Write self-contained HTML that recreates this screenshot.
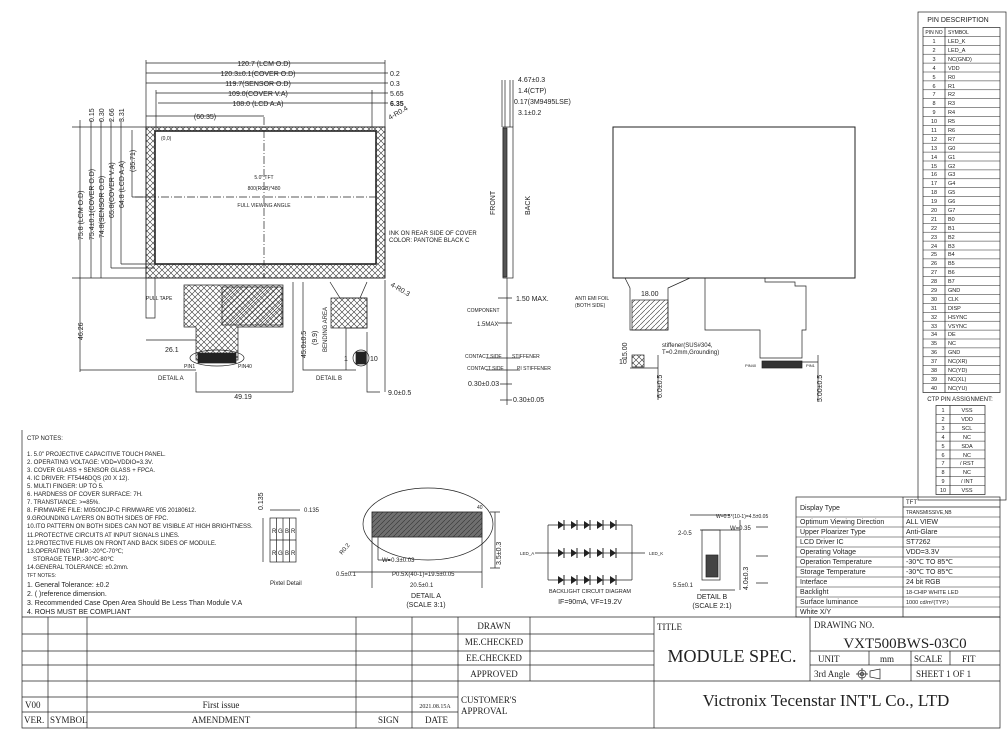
<!DOCTYPE html>
<html><head><meta charset="utf-8"><style>
html,body{margin:0;padding:0;background:#fff;}
svg{display:block;}
text{font-family:"Liberation Sans",sans-serif;fill:#222;}
.s{font-family:"Liberation Serif",serif;}
</style></head><body>
<svg width="1008" height="742" viewBox="0 0 1008 742" xmlns="http://www.w3.org/2000/svg">
<defs>
<pattern id="xh" width="6" height="6" patternUnits="userSpaceOnUse">
<path d="M0 0L6 6M6 0L0 6" stroke="#333" stroke-width="0.6"/>
</pattern>
<pattern id="dh" width="5" height="5" patternUnits="userSpaceOnUse">
<path d="M0 5L5 0" stroke="#333" stroke-width="0.6"/>
</pattern>
</defs>
<rect width="1008" height="742" fill="#fff"/>
<g stroke="#222" fill="none" stroke-width="0.7">
<!-- FRONT VIEW -->
<path d="M146 127H385V278H146Z M155 131H376V264H155Z" fill="url(#xh)" fill-rule="evenodd"/>
<rect x="146" y="127" width="239" height="151" stroke-width="1"/>
<rect x="155" y="131" width="221" height="133" stroke-width="1.6"/>
<path d="M264 117V278 M135 197H376" stroke-dasharray="8 2 1 2"/>
<!-- top dims -->
<path d="M146 60V127 M385 60V127 M146 63H385 M146 73H388 M146 83H388 M156 93H388 M158 103H388 M146 116H264 M156 90V130 M372 90V130"/>
<!-- left dims -->
<path d="M72 127H146 M72 278H146 M80 120V372 M91 120V278 M101 120V278 M111 120V268 M121 120V264 M111 268H155 M121 264H155 M132 130V197 M132 197H150 M80 370H196"/>
<!-- FPC -->
<path d="M184 285H283V327H238V360H196V327H184Z" fill="url(#xh)"/>
<rect x="222" y="287" width="60" height="38" fill="url(#dh)"/>
<rect x="198" y="353" width="38" height="10" fill="#222"/>
<ellipse cx="217" cy="358" rx="27" ry="8"/>
<path d="M146 278V318H155V278 M330 282L340 298H367V328H346V370 M360 298L367 282"/>
<rect x="331" y="298" width="36" height="30" fill="url(#xh)"/>
<rect x="356" y="352" width="10" height="12" fill="#222"/>
<circle cx="361" cy="358" r="8"/>
<path d="M146 340H196 M196 372V392H293 M293 282V392 M303 282V370H356 M367 332V392H380 M385 280V392"/>
<!-- SIDE VIEW -->
<rect x="503" y="127" width="10" height="151"/>
<rect x="503" y="128" width="4" height="149" fill="#555"/>
<path d="M502 80V127 M505 80V127 M510 80V127 M513 80V127 M507 278V405 M498 298H512 M498 323H512 M486 358H520 M486 370H520 M500 384H512 M500 400H512"/>
<!-- BACK VIEW -->
<rect x="613" y="127" width="242" height="151" stroke-width="1"/>
<path d="M625 278L630 288V330H668V288L690 278 M705 278V330H760V358H802V330H806V286H795V282H765V278"/>
<rect x="632" y="300" width="36" height="30" fill="url(#dh)"/>
<rect x="632" y="355" width="12" height="12" fill="url(#xh)"/>
<rect x="762" y="361" width="40" height="7" fill="#333"/>
<path d="M630 368H658 M658 355V400 M802 362H818 M818 355V400"/>
<!-- PIXEL DETAIL -->
<rect x="270" y="518" width="26" height="44"/>
<path d="M276.5 518V562 M283 518V562 M289.5 518V562 M270 540H296 M270 510H300 M263 518V562"/>
<!-- DETAIL A -->
<ellipse cx="428" cy="524" rx="65" ry="36"/>
<rect x="372" y="512" width="110" height="25" fill="url(#dh)"/>
<rect x="372" y="512" width="110" height="25" fill="#333" opacity="0.7"/>
<path d="M372 537V588 M482 537V588 M378 537V560 M372 572H482 M350 572H372 M490 512H500 M490 568H500 M495 512V568 M378 560H390"/>
<!-- BACKLIGHT -->
<path d="M548 525H632 M548 553H632 M548 580H632 M548 525V580 M632 525V580 M535 553H548 M632 553H645"/>
<!-- DETAIL B -->
<rect x="702" y="530" width="18" height="50"/>
<rect x="706" y="555" width="12" height="22" fill="#444"/>
<path d="M690 515H730 M700 530H740 M740 520V590 M700 590H735"/>
<!-- PIN TABLE -->
<rect x="918" y="12" width="88" height="488"/>
<rect x="923" y="27.5" width="77" height="365"/>
<path d="M945 27.5V392.5"/>
<rect x="936" y="405.5" width="49" height="89"/>
<path d="M950 405.5V494.5"/>
<!-- SPEC TABLE -->
<rect x="796" y="497" width="204" height="120"/>
<path d="M903 497V617 M903 507H1000"/>
<!-- TITLE BLOCK -->
<path d="M22 430V728H1000V617 M22 617H1000 M22 634H654 M22 651H654 M22 665H654 M22 681H1000 M22 697H458 M22 712H458 M48 617V728 M87 617V728 M356 617V728 M412 617V728 M458 617V728 M530 617V681 M654 617V728 M810 617V681 M810 651H1000 M810 665H1000 M869 651V665 M911 651V681 M950 651V665"/>
</g>
<g stroke="#222" stroke-width="0.8">
<path d="M756 527H768 M756 556H768 M756 583H768"/>
</g>
<!-- diodes -->
<g fill="#222">
<g id="dr"><path d="M558 521l6 4-6 4z M571 521l6 4-6 4z M584 521l6 4-6 4z M597 521l6 4-6 4z M610 521l6 4-6 4z"/><path d="M564 520v10M577 520v10M590 520v10M603 520v10M616 520v10" stroke="#222"/></g>
<use href="#dr" y="28"/><use href="#dr" y="55"/>
</g>
<!-- TEXT: front view -->
<g font-size="7">
<text x="264" y="66" text-anchor="middle" fill="#222">120.7 (LCM O.D)</text>
<text x="258" y="76" text-anchor="middle">120.3±0.1(COVER O.D)</text>
<text x="258" y="86" text-anchor="middle">119.7(SENSOR O.D)</text>
<text x="258" y="96" text-anchor="middle">109.0(COVER V.A)</text>
<text x="258" y="106" text-anchor="middle">108.0 (LCD A.A)</text>
<text x="205" y="119" text-anchor="middle">(60.35)</text>
<text x="390" y="76">0.2</text><text x="390" y="86">0.3</text><text x="390" y="96">5.65</text><text x="390" y="106" font-weight="bold">6.35</text>
<text x="390" y="120" transform="rotate(-30 390 120)">4-R0.4</text>
<text x="390" y="286" transform="rotate(30 390 286)">4-R0.3</text>
<text x="161" y="140" font-size="5">(0,0)</text>
<text x="264" y="179" font-size="5" text-anchor="middle">5.0" TFT</text>
<text x="264" y="190" font-size="5" text-anchor="middle">800(RGB)*480</text>
<text x="264" y="207" font-size="5" text-anchor="middle">FULL VIEWING ANGLE</text>
<text x="389" y="235" font-size="6">INK ON REAR SIDE OF COVER</text>
<text x="389" y="242" font-size="6">COLOR: PANTONE BLACK C</text>
<text x="146" y="300" font-size="5">PULL TAPE</text>
<text x="184" y="368" font-size="5">PIN1</text><text x="238" y="368" font-size="5">PIN40</text>
<text x="158" y="380" font-size="6">DETAIL A</text>
<text x="316" y="380" font-size="6">DETAIL B</text>
<text x="344" y="361" font-size="7">1</text><text x="370" y="361" font-size="7">10</text>
<text x="165" y="352">26.1</text>
<text x="243" y="399" text-anchor="middle">49.19</text>
<text x="388" y="395">9.0±0.5</text>
<g font-size="7">
<text transform="translate(83 240) rotate(-90)">75.8 (LCM O.D)</text>
<text transform="translate(94 240) rotate(-90)">75.4±0.1(COVER O.D)</text>
<text transform="translate(104 238) rotate(-90)">74.8(SENSOR O.D)</text>
<text transform="translate(114 218) rotate(-90)">65.8(COVER V.A)</text>
<text transform="translate(124 208) rotate(-90)">64.8 (LCD A.A)</text>
<text transform="translate(135 172) rotate(-90)">(35.71)</text>
<text transform="translate(94 122) rotate(-90)">0.15</text>
<text transform="translate(104 122) rotate(-90)">0.30</text>
<text transform="translate(114 122) rotate(-90)">2.66</text>
<text transform="translate(124 122) rotate(-90)">3.31</text>
<text transform="translate(83 340) rotate(-90)">46.26</text>
<text transform="translate(306 358) rotate(-90)">45.0±0.5</text>
<text transform="translate(317 345) rotate(-90)">(9.9)</text>
<text transform="translate(327 352) rotate(-90)" font-size="6">BENDING AREA</text>
<text transform="translate(495 215) rotate(-90)">FRONT</text>
<text transform="translate(530 215) rotate(-90)">BACK</text>
<text transform="translate(627 360) rotate(-90)">15.00</text>
<text transform="translate(662 398) rotate(-90)">6.0±0.5</text>
<text transform="translate(822 402) rotate(-90)">5.00±0.5</text>
<text transform="translate(263 510) rotate(-90)">0.135</text>
<text transform="translate(501 565) rotate(-90)">3.5±0.3</text>
<text transform="translate(748 590) rotate(-90)">4.0±0.3</text>
</g>
<!-- side view text -->
<text x="518" y="82">4.67±0.3</text>
<text x="518" y="93">1.4(CTP)</text>
<text x="514" y="104">0.17(3M9495LSE)</text>
<text x="518" y="115">3.1±0.2</text>
<text x="516" y="301">1.50 MAX.</text>
<text x="467" y="312" font-size="5">COMPONENT</text>
<text x="477" y="326" font-size="6">1.5MAX</text>
<text x="465" y="358" font-size="5">CONTACT SIDE</text><text x="512" y="358" font-size="5">STIFFENER</text>
<text x="467" y="370" font-size="5">CONTACT SIDE</text><text x="517" y="370" font-size="5">PI STIFFENER</text>
<text x="468" y="386">0.30±0.03</text>
<text x="513" y="402">0.30±0.05</text>
<!-- back view text -->
<text x="575" y="300" font-size="5">ANTI EMI FOIL</text><text x="575" y="307" font-size="5">(BOTH SIDE)</text>
<text x="641" y="296">18.00</text>
<text x="662" y="347" font-size="6">stiffener(SUS#304,</text>
<text x="662" y="354" font-size="6">T=0.2mm,Grounding)</text>
<text x="619" y="364">10</text>
<text x="745" y="367" font-size="4">PIN40</text><text x="806" y="367" font-size="4">PIN1</text>
</g>
<!-- pin table text -->
<g font-size="5.5">
<text x="958" y="22" text-anchor="middle" font-size="7">PIN DESCRIPTION</text>
<text x="934" y="34" text-anchor="middle" font-size="5">PIN NO</text><text x="948" y="34" font-size="5">SYMBOL</text>
<text x="934" y="43" text-anchor="middle">1</text><text x="948" y="43">LED_K</text>
<text x="934" y="52" text-anchor="middle">2</text><text x="948" y="52">LED_A</text>
<text x="934" y="61" text-anchor="middle">3</text><text x="948" y="61">NC(GND)</text>
<text x="934" y="70" text-anchor="middle">4</text><text x="948" y="70">VDD</text>
<text x="934" y="79" text-anchor="middle">5</text><text x="948" y="79">R0</text>
<text x="934" y="88" text-anchor="middle">6</text><text x="948" y="88">R1</text>
<text x="934" y="96" text-anchor="middle">7</text><text x="948" y="96">R2</text>
<text x="934" y="105" text-anchor="middle">8</text><text x="948" y="105">R3</text>
<text x="934" y="114" text-anchor="middle">9</text><text x="948" y="114">R4</text>
<text x="934" y="123" text-anchor="middle">10</text><text x="948" y="123">R5</text>
<text x="934" y="132" text-anchor="middle">11</text><text x="948" y="132">R6</text>
<text x="934" y="141" text-anchor="middle">12</text><text x="948" y="141">R7</text>
<text x="934" y="150" text-anchor="middle">13</text><text x="948" y="150">G0</text>
<text x="934" y="159" text-anchor="middle">14</text><text x="948" y="159">G1</text>
<text x="934" y="168" text-anchor="middle">15</text><text x="948" y="168">G2</text>
<text x="934" y="176" text-anchor="middle">16</text><text x="948" y="176">G3</text>
<text x="934" y="185" text-anchor="middle">17</text><text x="948" y="185">G4</text>
<text x="934" y="194" text-anchor="middle">18</text><text x="948" y="194">G5</text>
<text x="934" y="203" text-anchor="middle">19</text><text x="948" y="203">G6</text>
<text x="934" y="212" text-anchor="middle">20</text><text x="948" y="212">G7</text>
<text x="934" y="221" text-anchor="middle">21</text><text x="948" y="221">B0</text>
<text x="934" y="230" text-anchor="middle">22</text><text x="948" y="230">B1</text>
<text x="934" y="239" text-anchor="middle">23</text><text x="948" y="239">B2</text>
<text x="934" y="248" text-anchor="middle">24</text><text x="948" y="248">B3</text>
<text x="934" y="256" text-anchor="middle">25</text><text x="948" y="256">B4</text>
<text x="934" y="265" text-anchor="middle">26</text><text x="948" y="265">B5</text>
<text x="934" y="274" text-anchor="middle">27</text><text x="948" y="274">B6</text>
<text x="934" y="283" text-anchor="middle">28</text><text x="948" y="283">B7</text>
<text x="934" y="292" text-anchor="middle">29</text><text x="948" y="292">GND</text>
<text x="934" y="301" text-anchor="middle">30</text><text x="948" y="301">CLK</text>
<text x="934" y="310" text-anchor="middle">31</text><text x="948" y="310">DISP</text>
<text x="934" y="319" text-anchor="middle">32</text><text x="948" y="319">HSYNC</text>
<text x="934" y="328" text-anchor="middle">33</text><text x="948" y="328">VSYNC</text>
<text x="934" y="336" text-anchor="middle">34</text><text x="948" y="336">DE</text>
<text x="934" y="345" text-anchor="middle">35</text><text x="948" y="345">NC</text>
<text x="934" y="354" text-anchor="middle">36</text><text x="948" y="354">GND</text>
<text x="934" y="363" text-anchor="middle">37</text><text x="948" y="363">NC(XR)</text>
<text x="934" y="372" text-anchor="middle">38</text><text x="948" y="372">NC(YD)</text>
<text x="934" y="381" text-anchor="middle">39</text><text x="948" y="381">NC(XL)</text>
<text x="934" y="390" text-anchor="middle">40</text><text x="948" y="390">NC(YU)</text>
<text x="960" y="401" text-anchor="middle" font-size="6">CTP PIN ASSIGNMENT:</text>
<text x="943" y="412" text-anchor="middle">1</text><text x="967" y="412" text-anchor="middle">VSS</text>
<text x="943" y="421" text-anchor="middle">2</text><text x="967" y="421" text-anchor="middle">VDD</text>
<text x="943" y="430" text-anchor="middle">3</text><text x="967" y="430" text-anchor="middle">SCL</text>
<text x="943" y="439" text-anchor="middle">4</text><text x="967" y="439" text-anchor="middle">NC</text>
<text x="943" y="448" text-anchor="middle">5</text><text x="967" y="448" text-anchor="middle">SDA</text>
<text x="943" y="457" text-anchor="middle">6</text><text x="967" y="457" text-anchor="middle">NC</text>
<text x="943" y="465" text-anchor="middle">7</text><text x="967" y="465" text-anchor="middle">/ RST</text>
<text x="943" y="474" text-anchor="middle">8</text><text x="967" y="474" text-anchor="middle">NC</text>
<text x="943" y="483" text-anchor="middle">9</text><text x="967" y="483" text-anchor="middle">/ INT</text>
<text x="943" y="492" text-anchor="middle">10</text><text x="967" y="492" text-anchor="middle">VSS</text>
</g>
<g stroke="#222" stroke-width="0.5">
<path d="M923 36.4H1000M923 45.3H1000M923 54.2H1000M923 63.1H1000M923 72H1000M923 80.9H1000M923 89.8H1000M923 98.7H1000M923 107.6H1000M923 116.5H1000M923 125.4H1000M923 134.3H1000M923 143.2H1000M923 152.1H1000M923 161H1000M923 169.9H1000M923 178.8H1000M923 187.7H1000M923 196.6H1000M923 205.5H1000M923 214.4H1000M923 223.3H1000M923 232.2H1000M923 241.1H1000M923 250H1000M923 258.9H1000M923 267.8H1000M923 276.7H1000M923 285.6H1000M923 294.5H1000M923 303.4H1000M923 312.3H1000M923 321.2H1000M923 330.1H1000M923 339H1000M923 347.9H1000M923 356.8H1000M923 365.7H1000M923 374.6H1000M923 383.5H1000"/>
<path d="M936 414.4H985M936 423.3H985M936 432.2H985M936 441.1H985M936 450H985M936 458.9H985M936 467.8H985M936 476.7H985M936 485.6H985"/>
<path d="M796 517H1000M796 527H1000M796 537H1000M796 547H1000M796 557H1000M796 567H1000M796 577H1000M796 587H1000M796 597H1000M796 607H1000"/>
</g>
<!-- spec table text -->
<g font-size="7">
<text x="800" y="510">Display Type</text><text x="906" y="504" font-size="6">TFT</text><text x="906" y="514" font-size="5">TRANSMISSIVE,NB</text>
<text x="800" y="524">Optimum Viewing Direction</text><text x="906" y="524">ALL VIEW</text>
<text x="800" y="534">Upper Ploarizer Type</text><text x="906" y="534">Anti-Glare</text>
<text x="800" y="544">LCD Driver IC</text><text x="906" y="544">ST7262</text>
<text x="800" y="554">Operating Voltage</text><text x="906" y="554">VDD=3.3V</text>
<text x="800" y="564">Operation Temperature</text><text x="906" y="564">-30℃ TO 85℃</text>
<text x="800" y="574">Storage Temperature</text><text x="906" y="574">-30℃ TO 85℃</text>
<text x="800" y="584">Interface</text><text x="906" y="584">24 bit RGB</text>
<text x="800" y="594">Backlight</text><text x="906" y="594" font-size="5.5">18-CHIP WHITE LED</text>
<text x="800" y="604">Surface luminance</text><text x="906" y="604" font-size="5.5">1000 cd/m²(TYP.)</text>
<text x="800" y="614">White X/Y</text>
</g>
<!-- notes -->
<g font-size="6">
<text x="27" y="440">CTP NOTES:</text>
<text x="27" y="456">1. 5.0" PROJECTIVE CAPACITIVE TOUCH PANEL.</text>
<text x="27" y="464">2. OPERATING VOLTAGE: VDD=VDDIO=3.3V.</text>
<text x="27" y="472">3. COVER GLASS + SENSOR GLASS + FPCA.</text>
<text x="27" y="480">4. IC DRIVER: FT5446DQS (20 X 12).</text>
<text x="27" y="488">5. MULTI FINGER: UP TO 5.</text>
<text x="27" y="496">6. HARDNESS OF COVER SURFACE: 7H.</text>
<text x="27" y="504">7. TRANSTIANCE: &gt;=85%.</text>
<text x="27" y="512">8. FIRMWARE FILE: M0500CJP-C FIRMWARE V05 20180612.</text>
<text x="27" y="520">9.GROUNDING LAYERS ON BOTH SIDES OF FPC.</text>
<text x="27" y="528">10.ITO PATTERN ON BOTH SIDES CAN NOT BE VISIBLE AT HIGH BRIGHTNESS.</text>
<text x="27" y="537">11.PROTECTIVE CIRCUITS AT INPUT SIGNALS LINES.</text>
<text x="27" y="545">12.PROTECTIVE FILMS ON FRONT AND BACK SIDES OF MODULE.</text>
<text x="27" y="553">13.OPERATING TEMP.:-20℃-70℃;</text>
<text x="33" y="561">STORAGE TEMP.:-30℃-80℃</text>
<text x="27" y="569">14.GENERAL TOLERANCE: ±0.2mm.</text>
<text x="27" y="577" font-size="5">TFT NOTES:</text>
<text x="27" y="587" font-size="7">1. General Tolerance: ±0.2</text>
<text x="27" y="596" font-size="7">2. (     )reference dimension.</text>
<text x="27" y="605" font-size="7">3. Recommended Case Open Area Should Be Less Than Module V.A</text>
<text x="27" y="614" font-size="7">4. ROHS   MUST BE COMPLIANT</text>
<text x="304" y="512">0.135</text>
<text x="272" y="533">R</text><text x="278" y="533">G</text><text x="285" y="533">B</text><text x="291" y="533">R</text>
<text x="272" y="555">R</text><text x="278" y="555">G</text><text x="285" y="555">B</text><text x="291" y="555">R</text>
<text x="270" y="585">Pixtel Detail</text>
<text x="477" y="509" font-size="5">40</text>
<text transform="translate(342 555) rotate(-50)">R0.2</text>
<text x="382" y="562">W=0.3±0.03</text>
<text x="336" y="576">0.5±0.1</text>
<text x="392" y="576">P0.5X(40-1)=19.5±0.05</text>
<text x="410" y="587">20.5±0.1</text>
<text x="426" y="598" font-size="7" text-anchor="middle">DETAIL A</text>
<text x="426" y="607" font-size="7" text-anchor="middle">(SCALE 3:1)</text>
<text x="520" y="555" font-size="4.5">LED_A</text><text x="649" y="555" font-size="4.5">LED_K</text>
<text x="590" y="593" text-anchor="middle" font-size="5.5">BACKLIGHT CIRCUIT DIAGRAM</text>
<text x="590" y="604" text-anchor="middle" font-size="7">IF=90mA, VF=19.2V</text>
<text x="716" y="518" font-size="5">W=0.5*(10-1)=4.5±0.05</text>
<text x="678" y="535">2-0.5</text><text x="730" y="530">W=0.35</text>
<text x="673" y="587">5.5±0.1</text>
<text x="712" y="599" text-anchor="middle" font-size="7">DETAIL B</text>
<text x="712" y="608" text-anchor="middle" font-size="7">(SCALE 2:1)</text>
</g>
<!-- title block text -->
<g class="s" font-size="9">
<text class="s" x="494" y="629" text-anchor="middle">DRAWN</text>
<text class="s" x="494" y="645" text-anchor="middle">ME.CHECKED</text>
<text class="s" x="494" y="661" text-anchor="middle">EE.CHECKED</text>
<text class="s" x="494" y="677" text-anchor="middle">APPROVED</text>
<text class="s" x="461" y="703">CUSTOMER'S</text>
<text class="s" x="461" y="714">APPROVAL</text>
<text class="s" x="25" y="708">V00</text>
<text class="s" x="221" y="708" text-anchor="middle">First issue</text>
<text class="s" x="435" y="708" text-anchor="middle" font-size="6">2021.08.15A</text>
<text class="s" x="24" y="723">VER.</text><text class="s" x="50" y="723">SYMBOL</text>
<text class="s" x="221" y="723" text-anchor="middle">AMENDMENT</text>
<text class="s" x="378" y="723">SIGN</text><text class="s" x="425" y="723">DATE</text>
<text class="s" x="657" y="630">TITLE</text>
<text class="s" x="732" y="662" text-anchor="middle" font-size="18">MODULE SPEC.</text>
<text class="s" x="814" y="628">DRAWING NO.</text>
<text class="s" x="905" y="648" text-anchor="middle" font-size="15">VXT500BWS-03C0</text>
<text class="s" x="818" y="662">UNIT</text><text class="s" x="880" y="662">mm</text>
<text class="s" x="914" y="662">SCALE</text><text class="s" x="962" y="662">FIT</text>
<text class="s" x="814" y="677">3rd Angle</text>
<text class="s" x="916" y="677">SHEET 1 OF 1</text>
<text class="s" x="826" y="706" text-anchor="middle" font-size="17">Victronix Tecenstar INT'L Co., LTD</text>
</g>
<g stroke="#222" fill="none" stroke-width="0.7">
<circle cx="862" cy="674" r="4"/><circle cx="862" cy="674" r="1.8"/><path d="M856 674H868M862 668V680M870 671L880 669V679L870 677Z"/>
</g>
</svg>
</body></html>
